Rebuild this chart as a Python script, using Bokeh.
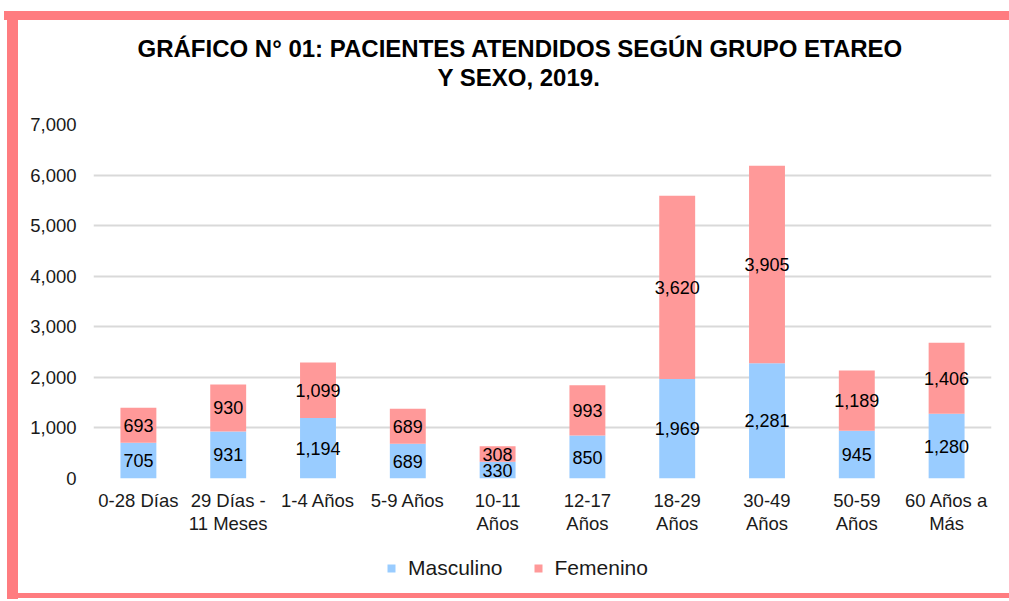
from bokeh.plotting import figure
from bokeh.layouts import column
from bokeh.models import (FactorRange, Range1d, Title, Legend, LegendItem,
                          NumeralTickFormatter, SingleIntervalTicker, ColumnDataSource)
from bokeh.core.properties import value
from bokeh.embed import file_html
from bokeh.resources import INLINE

# ---- data ----
categories = ["0-28 Días", "29 Días -\n11 Meses", "1-4 Años", "5-9 Años", "10-11\nAños",
              "12-17\nAños", "18-29\nAños", "30-49\nAños", "50-59\nAños", "60 Años a\nMás"]
masculino = [705, 931, 1194, 689, 330, 850, 1969, 2281, 945, 1280]
femenino = [693, 930, 1099, 689, 308, 993, 3620, 3905, 1189, 1406]
series = ["Masculino", "Femenino"]
title_lines = ["GRÁFICO N° 01: PACIENTES ATENDIDOS SEGÚN GRUPO ETAREO", "Y SEXO, 2019."]

colors = ["#99CCFF", "#FF9999"]
border_color = "#FF7C80"
FONT = "Liberation Sans"

src = ColumnDataSource(dict(cat=categories, Masculino=masculino, Femenino=femenino))

# ---- main chart ----
p = figure(x_range=FactorRange(factors=categories), y_range=Range1d(0, 7000),
           width=1009, height=545, output_backend="svg", toolbar_location=None,
           min_border_left=93, min_border_right=18, min_border_top=124, min_border_bottom=67)
p.title.text = ""
p.outline_line_color = None
p.background_fill_color = "white"
p.border_fill_alpha = 0

renderers = p.vbar_stack(series, x="cat", width=0.4, color=colors, source=src, line_color=None)

p.xgrid.grid_line_color = None
p.ygrid.grid_line_color = "#D9D9D9"
p.ygrid.grid_line_width = 2
p.yaxis.ticker = SingleIntervalTicker(interval=1000)
p.yaxis.formatter = NumeralTickFormatter(format="0,0")
for ax in (p.xaxis[0], p.yaxis[0]):
    ax.axis_line_color = None
    ax.major_tick_line_color = None
    ax.minor_tick_line_color = None
    ax.major_tick_out = 0
    ax.major_tick_in = 0
    ax.major_label_text_font = FONT
    ax.major_label_text_font_size = "18.5px"
    ax.major_label_text_color = "#1a1a1a"
p.yaxis.major_label_standoff = 13
p.xaxis.major_label_standoff = 11
p.xaxis.major_label_text_line_height = 1.1
p.xaxis.major_label_orientation = "horizontal"

# data labels (centered in each segment)
m_mid = [m / 2 for m in masculino]
f_mid = [m + f / 2 for m, f in zip(masculino, femenino)]
lab_src = ColumnDataSource(dict(
    x=categories + categories,
    y=m_mid + f_mid,
    t=[f"{v:,}" for v in masculino] + [f"{v:,}" for v in femenino]))
p.text(x="x", y="y", text="t", source=lab_src, text_align="center", text_baseline="middle",
       text_font=value(FONT), text_font_size="18px", text_color="#000000")

# title: blank spacer next to the frame, then line 2, then line 1
p.add_layout(Title(text=".", text_color="white", text_font_size="10px", standoff=23), "above")
p.add_layout(Title(text=title_lines[1], align="left", offset=344, vertical_align="middle",
                   standoff=0, text_font=FONT, text_font_size="24px",
                   text_font_style="bold", text_color="#000000"), "above")
p.add_layout(Title(text=title_lines[0], align="left", offset=44, vertical_align="middle",
                   standoff=0, text_font=FONT, text_font_size="24px",
                   text_font_style="bold", text_color="#000000"), "above")

# ---- legend strip (its frame is aligned with the chart frame by the column) ----
pl = figure(width=1009, height=56, x_range=Range1d(0, 1), y_range=Range1d(0, 1),
            x_axis_type=None, y_axis_type=None, output_backend="svg", toolbar_location=None,
            min_border=0)
pl.title.text = ""
pl.outline_line_color = None
pl.background_fill_alpha = 0
pl.border_fill_alpha = 0
pl.xgrid.visible = False
pl.ygrid.visible = False
# zero-height proxy bars, only used to draw the legend swatches
leg_rs = [pl.vbar(x=[0.5], top=[0], bottom=[0], width=0.01, color=c, line_color=None)
          for c in colors]
legend = Legend(items=[LegendItem(label=s, renderers=[r]) for s, r in zip(series, leg_rs)],
                orientation="horizontal", location=(293, 21), padding=0, margin=0,
                spacing=30, label_standoff=12, glyph_width=10, glyph_height=10, label_height=24,
                label_text_font=FONT, label_text_font_size="21px", label_text_color="#1a1a1a",
                border_line_color=None, background_fill_alpha=0)
pl.add_layout(legend, "center")

grad = f"linear-gradient({border_color},{border_color})"
layout = column(p, pl, spacing=0, styles={
    "background-color": "white",
    "background-image": ", ".join([grad, grad, grad]),
    "background-size": "1005px 9px, 11px 588px, 1002px 5px",
    "background-position": "4px 11px, 7px 11px, 7px 593px",
    "background-repeat": "no-repeat",
})

open("out.html", "w").write(file_html(layout, INLINE))
